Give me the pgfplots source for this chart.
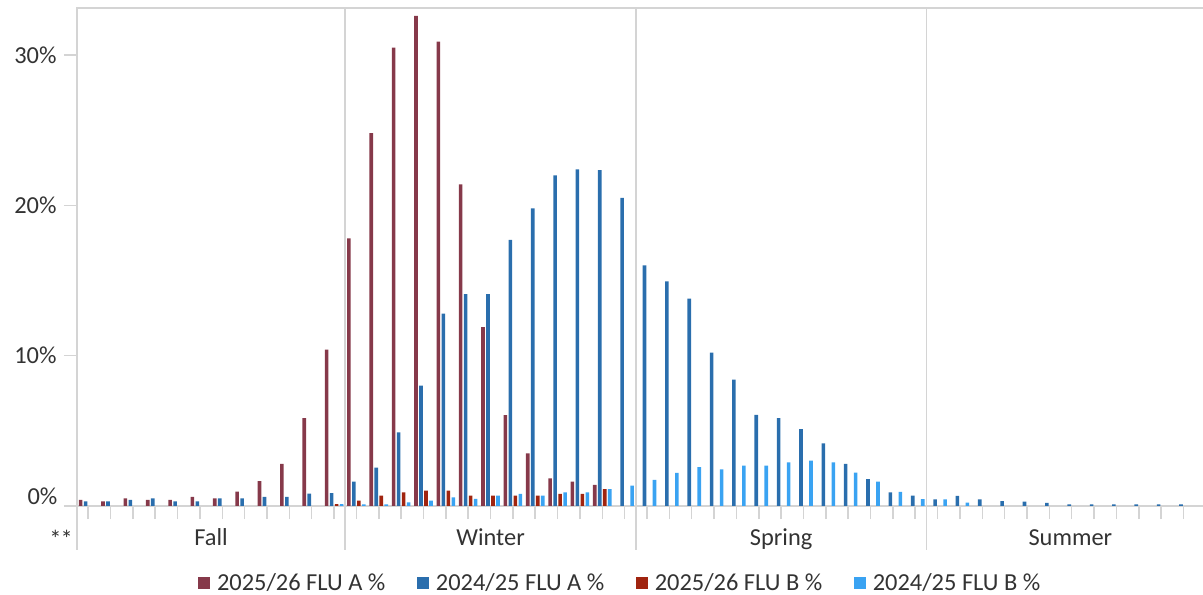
\documentclass[border=0pt]{standalone}
\usepackage{fontspec}
\setmainfont{Carlito}
\usepackage{pgfplots}
\pgfplotsset{compat=1.18}
\usepackage{pgfplotstable}

\definecolor{cA26}{HTML}{86394A}
\definecolor{cA25}{HTML}{2A6EAD}
\definecolor{cB26}{HTML}{A0240F}
\definecolor{cB25}{HTML}{3AA3F2}
\definecolor{gridc}{HTML}{D4D4D4}
\definecolor{txt}{HTML}{333333}

\pgfplotstableread{
k  a26  a25  b26  b25
0  0.4  0.3  nan  nan
1  0.3  0.3  nan  nan
2  0.5  0.4  nan  nan
3  0.4  0.5  nan  nan
4  0.4  0.3  nan  nan
5  0.6  0.3  nan  nan
6  0.5  0.5  nan  nan
7  0.95 0.5  nan  nan
8  1.65 0.6  nan  nan
9  2.8  0.6  nan  nan
10 5.85 0.82 nan  nan
11 10.4 0.85 0.13 0.13
12 17.8 1.62 0.36 0.1
13 24.8 2.55 0.69 0.1
14 30.5 4.9  0.91 0.24
15 32.6 8.0  1.02 0.36
16 30.9 12.8 1.02 0.58
17 21.4 14.1 0.69 0.47
18 11.9 14.1 0.69 0.69
19 6.05 17.7 0.69 0.8
20 3.5  19.8 0.69 0.69
21 1.84 22.0 0.8  0.91
22 1.62 22.4 0.8  0.91
23 1.4  22.35 1.13 1.13
24 nan  20.5 nan  1.35
25 nan  16.0 nan  1.73
26 nan  14.95 nan 2.2
27 nan  13.8 nan  2.58
28 nan  10.2 nan  2.44
29 nan  8.4  nan  2.69
30 nan  6.07 nan  2.69
31 nan  5.84 nan  2.91
32 nan  5.12 nan  3.02
33 nan  4.17 nan  2.91
34 nan  2.8  nan  2.22
35 nan  1.78 nan  1.62
36 nan  0.91 nan  0.94
37 nan  0.69 nan  0.46
38 nan  0.44 nan  0.44
39 nan  0.67 nan  0.22
40 nan  0.44 nan  nan
41 nan  0.33 nan  nan
42 nan  0.29 nan  nan
43 nan  0.2  nan  nan
44 nan  0.1  nan  nan
45 nan  0.1  nan  nan
46 nan  0.1  nan  nan
47 nan  0.1  nan  nan
48 nan  0.1  nan  nan
49 nan  0.1  nan  nan
}\fludata

\newcommand{\lblfont}{\fontsize{24.5}{28}\selectfont}

\begin{document}
\begin{tikzpicture}
\useasboundingbox (0,0) rectangle (1203bp,595bp);
\begin{axis}[
  at={(77bp,89bp)}, anchor=south west,
  scale only axis, width=1140bp, height=498bp,
  xmin=-0.5, xmax=50.5, ymin=0, ymax=33.13,
  ybar, bar width=3.6bp,
  axis line style={gridc, line width=1.5bp},
  xtick={0,...,50}, xticklabels={},
  ytick={0,10,20,30}, yticklabels={,10\%,20\%,30\%},
  tick align=outside, major tick length=13bp,
  tick style={gridc, line width=1.5bp},
  xtick pos=bottom, ytick pos=left,
  tick label style={font=\lblfont, text=txt},
  yticklabel style={xshift=-4bp},
  clip=false,
  legend columns=4,
  legend style={draw=none, fill=none, at={(0.4765,-0.1546)}, anchor=center,
    font=\lblfont, text=txt,
    /tikz/every even column/.append style={column sep=29.5bp},
    inner sep=0pt},
  legend cell align=left,
  legend image code/.code={\fill[#1] (0bp,-6bp) rectangle (12bp,6bp); \path (17bp,0bp);},
]
\addplot[fill=cA26, draw=none, bar shift=-7.5bp] table[x=k, y=a26] {\fludata};
\addplot[fill=cA25, draw=none, bar shift=-2.5bp] table[x=k, y=a25] {\fludata};
\addplot[fill=cB26, draw=none, bar shift=2.5bp] table[x=k, y=b26] {\fludata};
\addplot[fill=cB25, draw=none, bar shift=7.5bp] table[x=k, y=b25] {\fludata};
\legend{2025/26 FLU A \%, 2024/25 FLU A \%, 2025/26 FLU B \%, 2024/25 FLU B \%}

\draw[gridc, line width=1.5bp] (axis cs:-0.5,33.13) -- (axis cs:-0.5,-2.93);
\draw[gridc, line width=1.5bp] (axis cs:11.5,33.13) -- (axis cs:11.5,-2.93);
\draw[gridc, line width=1.5bp] (axis cs:24.5,33.13) -- (axis cs:24.5,-2.93);
\draw[gridc, line width=1.5bp] (axis cs:37.5,33.13) -- (axis cs:37.5,-2.93);
\node[font=\lblfont, text=txt, anchor=base] at (axis cs:5.5,-2.595) {Fall};
\node[font=\lblfont, text=txt, anchor=base] at (axis cs:18,-2.595) {Winter};
\node[font=\lblfont, text=txt, anchor=base] at (axis cs:31,-2.595) {Spring};
\node[font=\lblfont, text=txt, anchor=base] at (axis cs:43.94,-2.595) {Summer};
\node[font=\lblfont, text=txt] at (axis cs:-1.21,-2.2) {*\kern-1bp*};
\node[font=\lblfont, text=txt, anchor=east] at (axis cs:-1.22,0.67) {0\%};
\end{axis}
\end{tikzpicture}
\end{document}
